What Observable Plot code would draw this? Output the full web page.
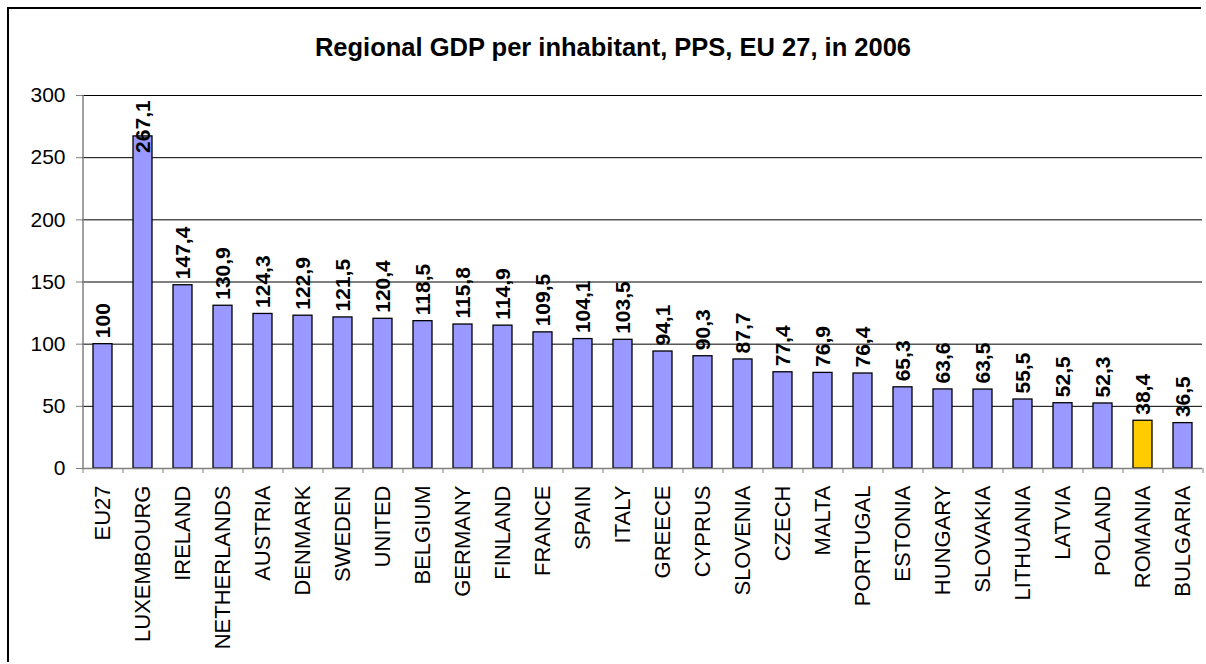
<!DOCTYPE html>
<html>
<head>
<meta charset="utf-8">
<script src="https://cdn.jsdelivr.net/npm/d3@7"></script>
<script src="https://cdn.jsdelivr.net/npm/@observablehq/plot@0.6"></script>
<style>
  html, body { margin: 0; padding: 0; background: #fff; overflow: hidden; }
  #frame { position: absolute; left: 7px; top: 7px; width: 1194px; height: 655px; border-left: 2px solid #000; border-top: 2px solid #000; box-sizing: border-box; }
  #title { position: absolute; left: 20px; top: 32px; width: 1186px; text-align: center; font-family: "Liberation Sans", Arial, sans-serif; font-weight: bold; font-size: 25.5px; line-height: 30px; color: #000; white-space: nowrap; }
  #chart { position: absolute; left: 0; top: 70px; width: 1206px; height: 594px; }
  #chart svg { display: block; }
</style>
</head>
<body>
<div id="frame"></div>
<div id="title">Regional GDP per inhabitant, PPS, EU 27, in 2006</div>
<div id="chart"></div>
<script>
const countries = ["EU27","LUXEMBOURG","IRELAND","NETHERLANDS","AUSTRIA","DENMARK","SWEDEN","UNITED","BELGIUM","GERMANY","FINLAND","FRANCE","SPAIN","ITALY","GREECE","CYPRUS","SLOVENIA","CZECH","MALTA","PORTUGAL","ESTONIA","HUNGARY","SLOVAKIA","LITHUANIA","LATVIA","POLAND","ROMANIA","BULGARIA"];
const values = [100,267.1,147.4,130.9,124.3,122.9,121.5,120.4,118.5,115.8,114.9,109.5,104.1,103.5,94.1,90.3,87.7,77.4,76.9,76.4,65.3,63.6,63.5,55.5,52.5,52.3,38.4,36.5];
const highlighted = ["ROMANIA"];
const yTicks = [0,50,100,150,200,250,300];

const data = countries.map((c, i) => ({country: c, value: values[i]}));
const fmt = v => String(v).replace(".", ",");

const W = 1206, H = 594, ML = 82, MR = 4, MT = 25, MB = 196;
const step = (W - ML - MR) / countries.length;
const font = "'Liberation Sans', Arial, sans-serif";

const chart = Plot.plot({
  width: W, height: H,
  marginLeft: ML, marginRight: MR, marginTop: MT, marginBottom: MB,
  style: {fontFamily: font, fontSize: "21px", color: "#000", background: "transparent", overflow: "visible"},
  x: {type: "band", domain: countries, paddingInner: 0.525, paddingOuter: 0.2625, align: 0.5, label: null, axis: null},
  y: {domain: [0, 300], label: null, axis: null},
  marks: [
    Plot.ruleY(yTicks.filter(t => t > 0), {stroke: "#000", strokeWidth: 1}),
    Plot.barY(data, {x: "country", y: "value", fill: d => highlighted.includes(d.country) ? "#FFCC00" : "#9999FF", stroke: "#000", strokeWidth: 1.3}),
    Plot.ruleY([0], {stroke: "#808080", strokeWidth: 1.5}),
    Plot.ruleX([countries[0]], {y1: 0, y2: 300, dx: -step / 2, stroke: "#808080", strokeWidth: 1.5}),
    Plot.axisY({ticks: yTicks, tickSize: 6, tickPadding: 11, tickFormat: d => String(d), stroke: "#808080", label: null, fontSize: 21}),
    Plot.axisX({ticks: countries, tickSize: 0, tickPadding: 17, tickRotate: -90, label: null, fontSize: 22}),
    Plot.axisX({ticks: countries, tickSize: 5, dx: -step / 2, tickFormat: () => "", stroke: "#808080", label: null}),
    Plot.axisX({ticks: [countries[countries.length - 1]], tickSize: 5, dx: step / 2, tickFormat: () => "", stroke: "#808080", label: null}),
    Plot.text(data, {x: "country", y: d => Math.min(d.value, 249), text: d => fmt(d.value), rotate: -90, textAnchor: "start", dy: -6, fontWeight: "bold", fontSize: 21, fill: "#000"})
  ]
});
document.getElementById("chart").appendChild(chart);
</script>
</body>
</html>
